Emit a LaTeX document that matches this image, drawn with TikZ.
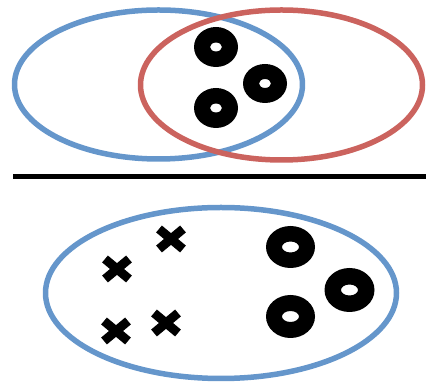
\documentclass[tikz,border=0pt]{standalone}
\definecolor{setblue}{RGB}{101,150,203}
\definecolor{setred}{RGB}{203,99,94}
\tikzset{
  setline/.style={line width=5.5pt},
  donut/.style={fill=black,even odd rule},
  crossline/.style={line width=9pt,line cap=butt}
}
\begin{document}
\begin{tikzpicture}[x=1pt,y=1pt,line join=round]
				\useasboundingbox (0,0) rectangle (426,382);
				
				% top: two overlapping sets
				\draw[setline,setblue] (158.5,297.5) ellipse (144 and 74.5);
				\draw[setline,setred] (281.5,297) ellipse (141 and 75);
				
				\fill[donut] (216,335) ellipse (22 and 20) (216,335) ellipse (6 and 4.5);
				\fill[donut] (265,298.5) ellipse (22 and 19.5) (265,298.5) ellipse (6 and 4.5);
				\fill[donut] (216,274) ellipse (22 and 20) (216,274) ellipse (6 and 4.5);
				
				% separator
				\draw[line width=5pt] (13,205.5) -- (426,205.5);
				
				% bottom: one set
				\draw[setline,setblue] (221,89) ellipse (175.5 and 85.5);
				
				\foreach \cx/\cy in {171/143, 117/113, 116/51, 166/59}
					\draw[crossline] (\cx-12,\cy-10) -- (\cx+12,\cy+10) (\cx-12,\cy+10) -- (\cx+12,\cy-10);
				
				\fill[donut] (290.5,135) ellipse (24.5 and 21) (290.5,135) ellipse (8.5 and 5.5);
				\fill[donut] (349.5,92) ellipse (25 and 22) (349.5,92) ellipse (8.5 and 5.5);
				\fill[donut] (290.5,65.5) ellipse (24.5 and 21.5) (290.5,65.5) ellipse (8.5 and 5.5);
			\end{tikzpicture}
\end{document}
